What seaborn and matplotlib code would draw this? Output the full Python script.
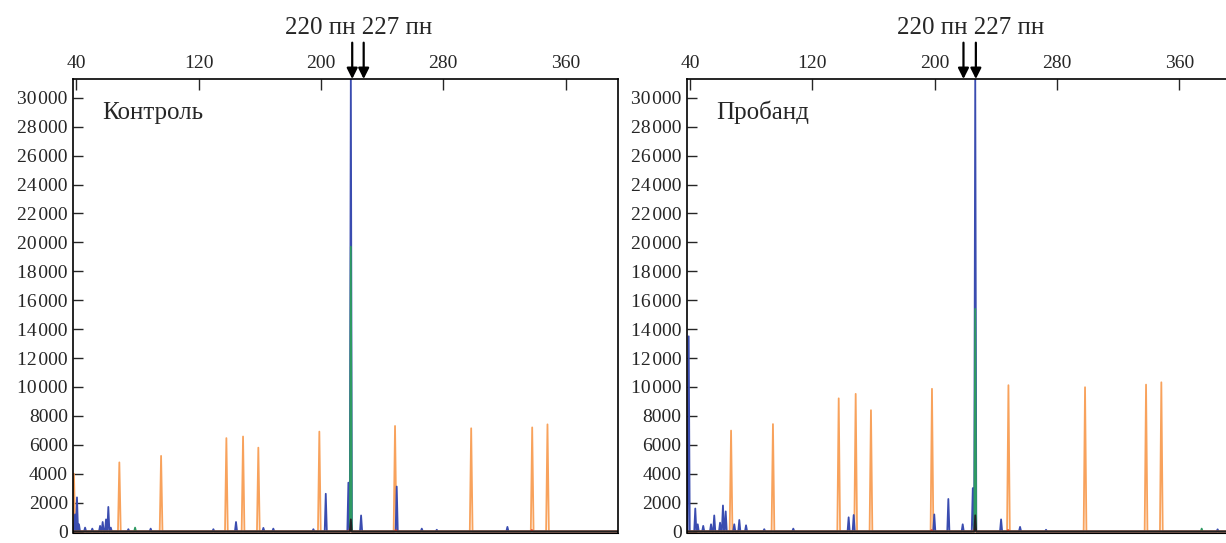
import numpy as np
import pandas as pd
import seaborn as sns
import matplotlib.pyplot as plt
from matplotlib.ticker import FuncFormatter
from matplotlib.transforms import blended_transform_factory

# size standard (orange), peak position in bp and height in RFU
ctrl_orange_x = [38.5, 68.2, 95.5, 138.2, 149.1, 159.1, 199.0, 248.5, 298.3, 338.2, 348.2]
ctrl_orange_y = [4000, 4780, 5230, 6460, 6570, 5800, 6910, 7300, 7140, 7200, 7410]
prob_orange_x = [66.8, 94.2, 137.2, 148.3, 158.3, 198.2, 248.2, 298.3, 338.2, 348.2]
prob_orange_y = [6980, 7430, 9210, 9520, 8390, 9870, 10120, 9980, 10160, 10320]

# blue channel
ctrl_blue_x = [39.2, 40.5, 41.8, 45.8, 50.5, 55.6, 57.3, 59.5, 61.0, 62.6, 74.1, 88.7,
               129.7, 144.5, 162.4, 168.9, 195.1, 203.2, 218.0, 219.6, 226.3, 249.6,
               266.0, 275.8, 322.0]
ctrl_blue_y = [1180, 2360, 500, 270, 200, 390, 660, 840, 1700, 270, 160, 200,
               160, 660, 250, 200, 160, 2610, 3380, 31800, 1110, 3110,
               200, 120, 320]
prob_blue_x = [37.3, 39.1, 43.4, 45.0, 48.6, 53.7, 55.8, 59.6, 61.5, 63.3, 68.9, 72.2,
               76.6, 88.5, 107.5, 143.7, 147.0, 199.7, 208.9, 218.3, 224.9, 226.5,
               243.4, 255.8, 272.8, 385.0]
prob_blue_y = [3340, 13500, 1590, 500, 390, 500, 1110, 610, 1800, 1390, 500, 800,
               430, 160, 200, 980, 1140, 1180, 2250, 500, 3000, 31800,
               840, 320, 120, 150]

# green, black and red channels
ctrl_green_x = [78.5, 219.6]
ctrl_green_y = [270, 19700]
prob_green_x = [226.5, 374.6]
prob_green_y = [15400, 200]
ctrl_black_x = [219.6]
ctrl_black_y = [840]
prob_black_x = [226.5]
prob_black_y = [1120]
ctrl_red_x = [219.0, 249.0, 338.0]
ctrl_red_y = [150, 100, 100]
prob_red_x = [198.0, 226.0, 248.0]
prob_red_y = [100, 150, 100]

ctrl_arrows = [220.5, 228.0]
prob_arrows = [218.8, 226.9]
panel_names = ["Контроль", "Пробанд"]
arrow_text = "220 пн 227 пн"

XMIN, XMAX = 38.1, 394.5
HALF_W = {"orange": 0.9, "blue": 0.7, "green": 0.6, "black": 0.6, "red": 0.6}
palette = {"orange": "#f8a25c", "blue": "#3a4cb0", "green": "#2e9a62",
           "red": "#e03a2a", "black": "#222222"}


def trace(xs, ys, dye):
    px, py = [XMIN], [0]
    w = HALF_W[dye]
    for x, y in sorted(zip(xs, ys)):
        px += [x - w, x, x + w]
        py += [0, y, 0]
    px.append(XMAX)
    py.append(0)
    return pd.DataFrame({"x": px, "y": py, "dye": dye})


def panel_df(o, b, g, r, k):
    return pd.concat([trace(*o, "orange"), trace(*b, "blue"), trace(*g, "green"),
                      trace(*r, "red"), trace(*k, "black")], ignore_index=True)


ctrl = panel_df((ctrl_orange_x, ctrl_orange_y), (ctrl_blue_x, ctrl_blue_y),
                (ctrl_green_x, ctrl_green_y), (ctrl_red_x, ctrl_red_y),
                (ctrl_black_x, ctrl_black_y))
prob = panel_df((prob_orange_x, prob_orange_y), (prob_blue_x, prob_blue_y),
                (prob_green_x, prob_green_y), (prob_red_x, prob_red_y),
                (prob_black_x, prob_black_y))

sns.set_style("white")
plt.rcParams["font.family"] = ["Liberation Serif", "DejaVu Serif"]

fig = plt.figure(figsize=(12.26, 5.43), dpi=100)
ax1 = fig.add_axes([0.0598, 0.0185, 0.4445, 0.8360])
ax2 = fig.add_axes([0.5605, 0.0185, 0.4445, 0.8360])


def fmt(v, pos):
    v = int(round(v))
    if v >= 10000:
        return f"{v // 1000}\u200a{v % 1000:03d}"
    return str(v)


for ax, df, name, arrows in [(ax1, ctrl, panel_names[0], ctrl_arrows),
                             (ax2, prob, panel_names[1], prob_arrows)]:
    sns.lineplot(data=df, x="x", y="y", hue="dye", palette=palette,
                 hue_order=["orange", "blue", "green", "red", "black"],
                 estimator=None, sort=False, legend=False, lw=1.3, ax=ax)
    ax.set_xlim(XMIN, XMAX)
    ax.set_ylim(-100, 31300)
    ax.set_xticks([40, 120, 200, 280, 360])
    ax.set_yticks(np.arange(0, 30001, 2000))
    ax.yaxis.set_major_formatter(FuncFormatter(fmt))
    ax.xaxis.tick_top()
    ax.tick_params(axis="x", direction="in", length=8, width=1, top=True, bottom=False,
                   labeltop=True, labelbottom=False, labelsize=14, pad=5)
    ax.tick_params(axis="y", direction="in", length=7, width=1, left=True, right=False,
                   labelsize=14, pad=4)
    ax.set_xlabel("")
    ax.set_ylabel("")
    for s in ax.spines.values():
        s.set_color("black")
        s.set_linewidth(1.2)
    ax.spines["bottom"].set_linewidth(0.8)
    ax.text(0.053, 0.926, name, transform=ax.transAxes, fontsize=18, va="center")
    tr = blended_transform_factory(ax.transData, ax.transAxes)
    for a in arrows:
        ax.annotate("", xy=(a, 1.0), xycoords=tr, xytext=(a, 1.08), textcoords=tr,
                    arrowprops=dict(arrowstyle="-|>", color="black", lw=1.6,
                                    mutation_scale=16, shrinkA=0, shrinkB=0),
                    annotation_clip=False)
    ax.text(np.mean(arrows) + 0.3, 1.112, arrow_text, transform=tr, fontsize=18,
            ha="center", va="center")

fig.savefig("out.png", dpi=100)
